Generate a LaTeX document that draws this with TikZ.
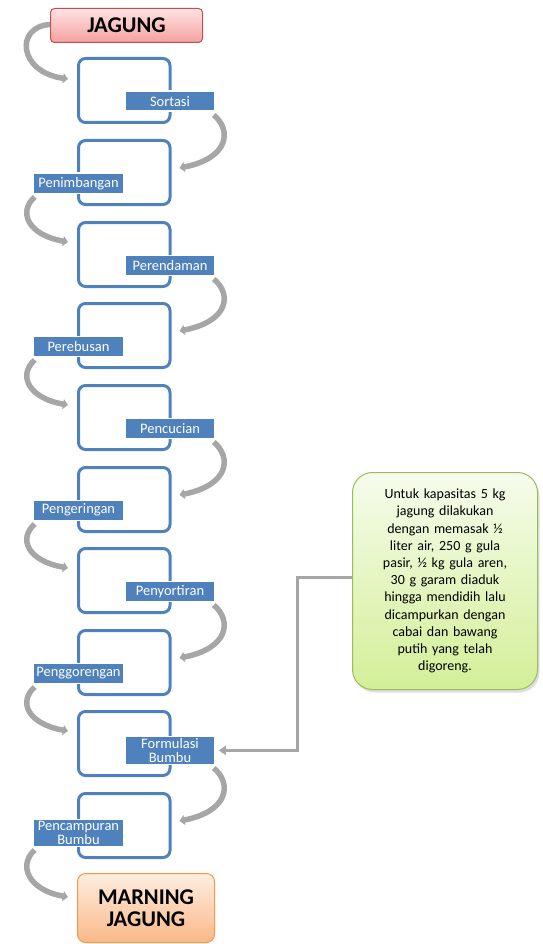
\documentclass[tikz,border=0pt]{standalone}
\usepackage{fontspec}
\setmainfont{Carlito}
\usetikzlibrary{arrows.meta,calc,shadows}
\definecolor{lblue}{HTML}{4F81BD}
\definecolor{agray}{HTML}{A6A6A6}
\definecolor{redtop}{HTML}{FFE3E3}
\definecolor{redbot}{HTML}{F3A09F}
\definecolor{redline}{HTML}{C0504D}
\definecolor{ortop}{HTML}{FEEEE0}
\definecolor{orbot}{HTML}{FAB888}
\definecolor{orline}{HTML}{F79646}
\definecolor{grtop}{HTML}{F6FCEC}
\definecolor{grbot}{HTML}{D3EF97}
\definecolor{grline}{HTML}{9BBB59}
\tikzset{
  pbox/.style={draw=lblue, line width=3pt, rounded corners=7pt, minimum width=91.5pt, minimum height=64pt, inner sep=0pt},
  lbl/.style={fill=lblue, draw=white, line width=1.5pt, text=white, minimum width=90pt, minimum height=20pt, inner xsep=0pt, inner ysep=1pt, align=center, font=\fontsize{14.5}{15}\selectfont},
  lbltwo/.style={lbl, inner ysep=1.5pt, font=\fontsize{14.5}{14.5}\selectfont},
  carrow/.style={draw=agray, line width=5.5pt, -{Triangle[length=5pt,width=10pt]}},
  conn/.style={draw=agray, line width=3pt, -{Triangle[length=7pt,width=9pt]}},
}
\begin{document}
\begin{tikzpicture}[x=1pt,y=-1pt]
\useasboundingbox (0,0) rectangle (542,944);
% process boxes
\foreach \i/\t in {0/57,1/139,2/221,3/302,4/384,5/466,6/547,7/629,8/710,9/792}{
  \node[pbox] (b\i) at (124.25,\t+33.5) {};
}
% start and end
\node[draw=redline, line width=1pt, rounded corners=4pt, top color=redtop, bottom color=redbot,
      minimum width=152pt, minimum height=34pt, font=\fontsize{22.5}{24}\selectfont\bfseries]
      (start) at (126.5,25.5) {JAGUNG};
\node[draw=orline, line width=1pt, rounded corners=8pt, top color=ortop, bottom color=orbot,
      minimum width=137pt, minimum height=69pt, align=center, font=\fontsize{22.5}{22}\selectfont\bfseries]
      (end) at (146,908) {MARNING\\JAGUNG};
% labels
\node[lbl, anchor=south] (l0) at ($(b0.north east)+(-1.5,55)$) {Sortasi};
\node[lbl, anchor=south] (l1) at ($(b1.north west)+(1.5,55)$) {Penimbangan};
\node[lbl, anchor=south] (l2) at ($(b2.north east)+(-1.5,55)$) {Perendaman};
\node[lbl, anchor=south] (l3) at ($(b3.north west)+(1.5,55)$) {Perebusan};
\node[lbl, anchor=south] (l4) at ($(b4.north east)+(-1.5,55)$) {Pencucian};
\node[lbl, anchor=south] (l5) at ($(b5.north west)+(1.5,55)$) {Pengeringan};
\node[lbl, anchor=south] (l6) at ($(b6.north east)+(-1.5,55)$) {Penyortiran};
\node[lbl, anchor=south] (l7) at ($(b7.north west)+(1.5,55)$) {Penggorengan};
\node[lbltwo, anchor=south] (l8) at ($(b8.north east)+(-1.5,55)$) {Formulasi\\Bumbu};
\node[lbltwo, anchor=south] (l9) at ($(b9.north west)+(1.5,55)$) {Pencampuran\\Bumbu};
% note box
\node[draw=grline, line width=1pt, rounded corners=20pt, top color=grtop, bottom color=grbot,
      minimum width=185pt, minimum height=217pt, align=center, text width=150pt,
      font=\fontsize{14}{17.2}\selectfont,
      drop shadow={opacity=0.25, shadow xshift=2pt, shadow yshift=-3pt}]
      (note) at (445,581) {Untuk kapasitas 5 kg\\jagung dilakukan\\dengan memasak ½\\liter air, 250 g gula\\pasir, ½ kg gula aren,\\30 g garam diaduk\\hingga mendidih lalu\\dicampurkan dengan\\cabai dan bawang\\putih yang telah\\digoreng.};
% curved arrows
\draw[carrow] ($(start.west)+(0,-1)$) .. controls +(-35,2) and +(-50,-7) .. ($(b0.north west)+(-9,22)$);
\foreach \l/\b in {0/1,2/3,4/5,6/7,8/9}{
  \draw[carrow] ($(l\l.south east)+(-2,3)$) .. controls +(18,15) and +(50,-10) .. ($(b\b.north east)+(8,29)$);
}
\foreach \l/\b in {1/2,3/4,5/6,7/8}{
  \draw[carrow] ($(l\l.south west)+(2,3)$) .. controls +(-17,15) and +(-40,-7) .. ($(b\b.north west)+(-9,21)$);
}
\draw[carrow] ($(l9.south west)+(2,3)$) .. controls +(-17,15) and +(-40,-7) .. ($(end.north west)+(-9,24)$);
% connector from note
\draw[conn] ($(note.west)+(0,-4)$) -- ++(-55,0) |- ($(l8.east)+(3,0)$);
\end{tikzpicture}
\end{document}
